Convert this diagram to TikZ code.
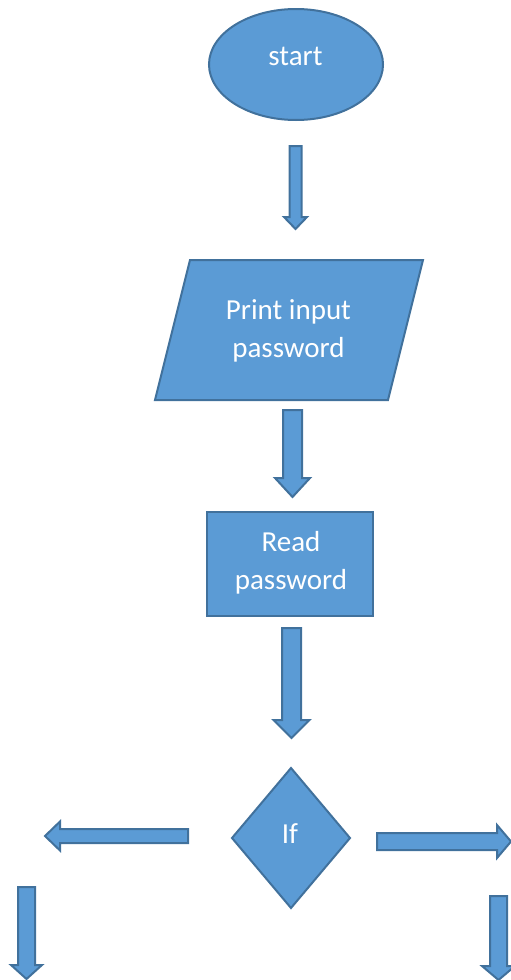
\documentclass[tikz,border=0pt]{standalone}
\usepackage{fontspec}
\setmainfont{Carlito}
\usetikzlibrary{shapes.geometric}

\definecolor{boxfill}{HTML}{5B9BD5}
\definecolor{boxline}{HTML}{41719C}

\tikzset{
  shapebox/.style={fill=boxfill, draw=boxline, line width=2pt, line join=miter},
  caption/.style={text=white, font=\fontsize{29}{38}\selectfont, inner sep=0pt, align=center},
  % block arrow pointing along +y of the pixel grid from its tail centre:
  % #1 length, #2 shaft width, #3 head width, #4 head length
  pics/blockarrow/.style n args={4}{code={
    \draw[shapebox]
      (-#2/2,0) -- (#2/2,0) -- (#2/2,#1-#4) -- (#3/2,#1-#4) -- (0,#1)
      -- (-#3/2,#1-#4) -- (-#2/2,#1-#4) -- cycle;
  }}
}

\begin{document}
\begin{tikzpicture}[x=1pt,y=-1pt]
  \useasboundingbox (0,0) rectangle (511,980);

  % terminal
  \node[shapebox, ellipse, minimum width=174pt, minimum height=111pt, inner sep=0pt] (start) at (296,64.5) {};
  \node[caption, anchor=base] (starttext) at (295.5,65) {start};

  \pic at (295.5,146) {blockarrow={83}{12}{23}{12}};

  % output: parallelogram
  \coordinate (p1) at (190,260);
  \coordinate (p2) at (423,260);
  \coordinate (p3) at (388,400);
  \coordinate (p4) at (155,400);
  \draw[shapebox] (p1) -- (p2) -- (p3) -- (p4) -- cycle;
  % base anchor of a two-line node sits on the last line
  \node[caption, anchor=base] (printtext) at (288.5,357) {Print input\\password};

  \pic at (292.5,410) {blockarrow={87}{19}{35}{19}};

  % process
  \node[shapebox, rectangle, minimum width=166pt, minimum height=104pt, inner sep=0pt] (read) at (290,564) {};
  \node[caption, anchor=base] (readtext) at (291,589) {Read\\password};

  \pic at (291.5,628) {blockarrow={110}{19}{36}{18}};

  % decision
  \coordinate (d1) at (291,768);
  \coordinate (d2) at (350,838);
  \coordinate (d3) at (291,908);
  \coordinate (d4) at (232,838);
  \draw[shapebox] (d1) -- (d2) -- (d3) -- (d4) -- cycle;
  \node[caption, anchor=base] (iftext) at (290,843) {If};

  % branches
  \pic[rotate=-90] at (188,836) {blockarrow={143}{14}{29}{15}};
  \pic[rotate=90] at (377,841.5) {blockarrow={134}{17}{33}{14}};
  \pic at (26.5,887) {blockarrow={92}{17}{31}{14}};
  \pic at (498.5,896) {blockarrow={84}{17}{33}{14}};
\end{tikzpicture}
\end{document}
